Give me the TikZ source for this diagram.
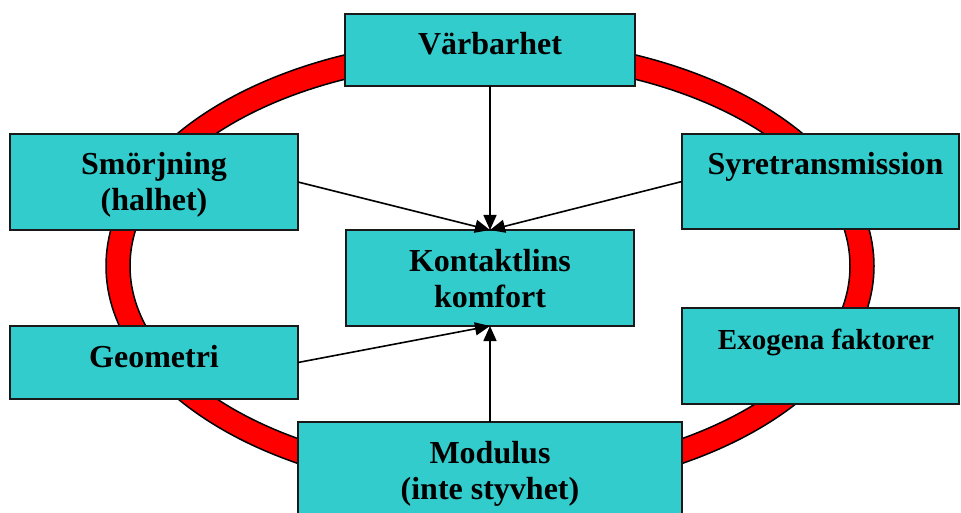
\documentclass[tikz,border=0pt]{standalone}
\usepackage{fontspec}
\setmainfont{Liberation Serif}
\usetikzlibrary{arrows.meta}
\definecolor{boxfill}{RGB}{51,204,204}
\newcommand\mytxt[4]{\parbox[c][#2pt][t]{#1pt}{\centering\fontsize{#3}{36}\selectfont\bfseries\rule{0pt}{41pt}#4}}
\begin{document}
\begin{tikzpicture}[x=1pt,y=-1pt,
  box/.style={draw=black!90, line width=1.8pt, fill=boxfill, inner sep=0pt, outer sep=0pt},
  conn/.style={line width=1.6pt, -{Triangle[length=15pt,width=13pt]}}]
\useasboundingbox (0,0) rectangle (961,513);
% red ring
\fill[red, draw=black, line width=1.5pt, even odd rule]
  (490,266) ellipse [x radius=384, y radius=228]
  (490,266) ellipse [x radius=360, y radius=204];
% boxes
\node[box] (v) at (490,50) {\mytxt{290}{72}{32}{Värbarhet}};
\node[box] (k) at (490,278) {\mytxt{288}{96}{32}{Kontaktlins\\komfort}};
\node[box] (s) at (154,182) {\mytxt{288}{96}{32}{Smörjning\\(halhet)}};
\node[box] (o) at (820.5,181.5) {\mytxt{277}{95}{32}{\hspace*{10pt}Syretransmission}};
\node[box] (e) at (820.5,356) {\mytxt{277}{96}{29}{\hspace*{11pt}Exogena faktorer}};
\node[box] (g) at (154,362.5) {\mytxt{288}{73}{32}{Geometri}};
\node[box] (m) at (490,470) {\mytxt{384}{96}{32}{Modulus\\(inte styvhet)}};
% connectors
\draw[conn] (v.south) -- (k.north);
\draw[conn] (s.east) -- (k.north);
\draw[conn] (o.west) -- (k.north);
\draw[conn] (g.east) -- (k.south);
\draw[conn] (m.north) -- (k.south);
\end{tikzpicture}
\end{document}
